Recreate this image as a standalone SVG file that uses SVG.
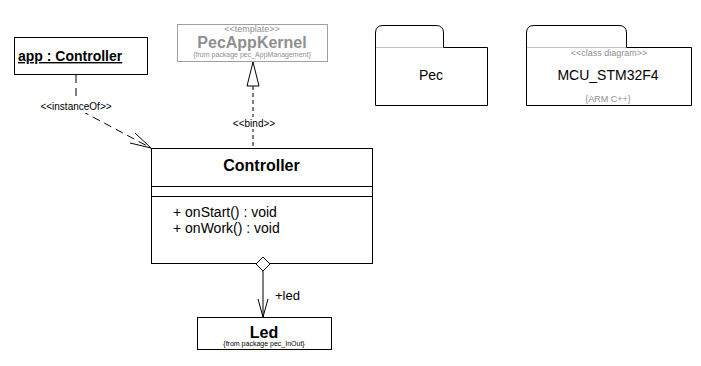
<svg xmlns="http://www.w3.org/2000/svg" width="701" height="366" viewBox="0 0 701 366">
<style>
text{font-family:"Liberation Sans",Arial,sans-serif;fill:#000}
.box{fill:#fff;stroke:#000;stroke-width:1}
.b{font-weight:bold}
.gray{fill:#8f8f8f}
.dash{fill:none;stroke:#000;stroke-width:1;stroke-dasharray:8 5}
.dash2{fill:none;stroke:#000;stroke-width:1;stroke-dasharray:4 3}
.ln{fill:none;stroke:#000;stroke-width:1}
</style>
<rect width="701" height="366" fill="#fff"/>
<g id="app">
  <rect class="box" x="14.5" y="37.5" width="133" height="37"/>
  <text x="18" y="61" font-size="14" class="b" text-decoration="underline">app : Controller</text>
</g>
<g id="PecAppKernel">
  <rect x="177.5" y="24.5" width="150" height="37" fill="#fff" stroke="#a0a0a0"/>
  <text x="252" y="32" font-size="9" text-anchor="middle" class="gray">&lt;&lt;template&gt;&gt;</text>
  <text x="252" y="48" font-size="16" text-anchor="middle" class="b gray">PecAppKernel</text>
  <text x="252" y="57" font-size="7" text-anchor="middle" class="gray">{from package pec_AppManagement}</text>
</g>
<g id="Pec">
  <path class="ln" d="M375.5,47 V33 Q375.5,25.5 383,25.5 H436 Q443.5,25.5 443.5,33 V47.5"/>
  <path class="ln" d="M375.5,47 V105.5 H487.5 V47.5 H443.5"/>
  <line x1="376" y1="47.5" x2="443" y2="47.5" stroke="#c0c0c0"/>
  <text x="431" y="80" font-size="14" text-anchor="middle">Pec</text>
</g>
<g id="MCU_STM32F4">
  <path class="ln" d="M526.5,47 V33 Q526.5,25.5 534,25.5 H619 Q626.5,25.5 626.5,33 V47.5"/>
  <path class="ln" d="M526.5,47 V105.5 H691.5 V47.5 H626.5"/>
  <line x1="527" y1="47.5" x2="626" y2="47.5" stroke="#c0c0c0"/>
  <text x="609" y="56" font-size="9" text-anchor="middle" class="gray">&lt;&lt;class diagram&gt;&gt;</text>
  <text x="608" y="80" font-size="14" text-anchor="middle">MCU_STM32F4</text>
  <text x="608" y="102" font-size="9" text-anchor="middle" class="gray">{ARM C++}</text>
</g>
<g id="Controller">
  <rect class="box" x="151.5" y="148.5" width="221" height="115"/>
  <line class="ln" x1="151.5" y1="186.5" x2="372.5" y2="186.5"/>
  <line class="ln" x1="151.5" y1="196.5" x2="372.5" y2="196.5"/>
  <text x="261.5" y="171" font-size="16" text-anchor="middle" class="b">Controller</text>
  <text x="173" y="217" font-size="14">+ onStart() : void</text>
  <text x="173" y="233" font-size="14">+ onWork() : void</text>
</g>
<g id="Led">
  <rect class="box" x="197.5" y="317.5" width="134" height="32"/>
  <text x="264" y="338" font-size="16" text-anchor="middle" class="b">Led</text>
  <text x="264" y="346" font-size="7" text-anchor="middle">{from package pec_InOut}</text>
</g>
<g id="connectors">
  <polyline class="dash" points="76,75 76,108 151,148"/>
  <polyline class="ln" points="135,133 151,148 130,143"/>
  <line class="dash2" x1="253" y1="86" x2="253" y2="148"/>
  <polygon points="253,62 247,86 259,86" fill="#fff" stroke="#000"/>
  <line class="ln" x1="263" y1="271" x2="263" y2="317"/>
  <polyline class="ln" points="258,299 263,317 268,299"/>
  <polygon points="263,257 270,264 263,271 256,264" fill="#fff" stroke="#000"/>
  <rect x="36" y="100" width="80" height="13" fill="#fff"/>
  <text x="76" y="110" font-size="10" text-anchor="middle">&lt;&lt;instanceOf&gt;&gt;</text>
  <rect x="231" y="117" width="46" height="12" fill="#fff"/>
  <text x="254" y="127" font-size="10" text-anchor="middle">&lt;&lt;bind&gt;&gt;</text>
  <text x="275" y="300" font-size="13">+led</text>
</g>
</svg>
